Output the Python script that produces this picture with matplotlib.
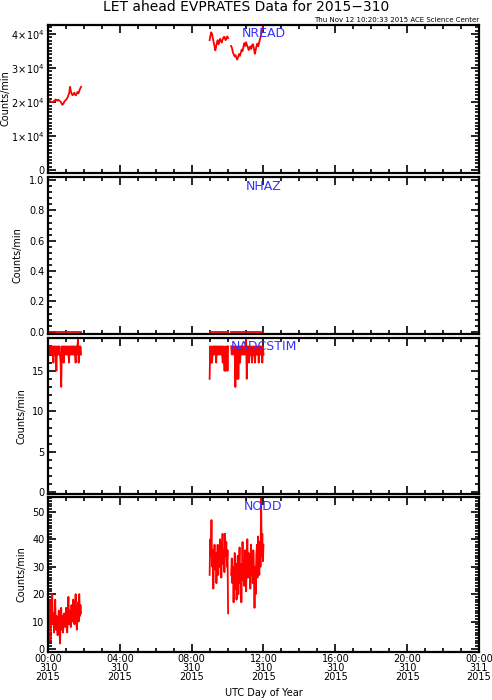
import numpy as np
import matplotlib
matplotlib.use('Agg')
import matplotlib.pyplot as plt
from matplotlib.ticker import MultipleLocator, FixedLocator

# time segments in hours (start, end) of day 310; values sampled evenly inside each segment
seg_a = (0.0, 1.84)
seg_b = (9.0, 10.03)
seg_c = (10.2, 12.0)

nread_a = [20900, 20700, 20400, 20200, 20100, 20000, 20100, 20300, 20500, 20800,
           20600, 20400, 20700, 20500, 20300, 20100, 19600, 19200, 19500, 20000,
           20400, 20600, 20900, 21300, 22000, 22600, 24500, 23200, 22400, 22000,
           22300, 22800, 22200, 22000, 22500, 23000, 22600, 23400, 24000, 24500]
nread_b = [38200, 39500, 40500, 40000, 38800, 37600, 36500, 35200, 36200, 37400,
           38200, 37000, 37800, 38600, 38000, 37500, 38300, 38900, 39200, 38700,
           38200, 38900, 39300, 38800]
nread_c = [36500, 35800, 34600, 34000, 33400, 33800, 33000, 32500, 33300, 34100,
           33600, 34500, 35400, 35000, 36200, 37300, 36500, 37600, 36800, 36200,
           35300, 35800, 36400, 35600, 36800, 37000, 35800, 34200, 35200, 36500,
           37200, 36400, 37500, 38500, 39500, 40800, 42000, 43000]

nhaz_a = [0, 0]
nhaz_b = [0, 0]
nhaz_c = [0, 0]

nadc_a = [18, 17, 18, 17, 18, 17, 18, 17, 18, 16, 18, 17, 18, 17, 15, 18, 17, 18, 17, 18,
          17, 16, 13, 18, 17, 18, 16, 18, 17, 18, 17, 18, 17, 18, 17, 16, 18, 17, 18, 17,
          18, 17, 18, 17, 18, 17, 16, 18, 17, 18, 19, 16, 18, 17, 18, 17]
nadc_b = [14, 18, 16, 18, 16, 17, 18, 17, 18, 17, 18, 16, 18, 17, 18, 17, 18, 17, 18, 17,
          18, 17, 16, 18, 17, 15, 18, 15, 17, 18, 15, 18]
nadc_c = [18, 17, 18, 17, 18, 17, 18, 13, 18, 17, 14, 18, 14, 17, 18, 16, 18, 17, 18, 17,
          18, 17, 18, 17, 18, 19, 14, 18, 17, 18, 16, 18, 17, 18, 17, 16, 18, 17, 18, 17,
          16, 18, 17, 18, 17, 18, 16, 18, 17, 18, 17, 18, 16, 18, 17]

nodd_a = [8, 15, 12, 18, 3, 11, 14, 20, 9, 13, 6, 10, 18, 7, 12, 9, 5, 11, 14, 8,
          2, 10, 15, 7, 12, 6, 9, 13, 11, 8, 15, 10, 6, 12, 19, 9, 14, 11, 8, 16,
          12, 10, 18, 13, 9, 15, 20, 11, 7, 14, 17, 10, 20, 12, 16, 13]
nodd_b = [27, 40, 34, 47, 30, 36, 22, 33, 38, 29, 35, 24, 31, 38, 27, 36, 30, 40, 33, 26,
          37, 42, 31, 35, 28, 42, 34, 39, 30, 36, 13]
nodd_c = [27, 33, 24, 30, 17, 28, 35, 22, 31, 18, 26, 34, 20, 29, 37, 24, 31, 17, 28, 39,
          25, 32, 23, 36, 29, 21, 33, 40, 26, 35, 28, 31, 22, 38, 27, 33, 24, 36, 29, 15,
          30, 20, 34, 38, 26, 41, 32, 27, 39, 30, 55, 34, 42, 32, 38]

panels = [
    ('NREAD', [nread_a, nread_b, nread_c], (-700, 42800), 10000, 1000),
    ('NHAZ', [nhaz_a, nhaz_b, nhaz_c], (-0.015, 1.022), 0.2, 0.04),
    ('NADCSTIM', [nadc_a, nadc_b, nadc_c], (-0.2, 19.1), 5, 1),
    ('NODD', [nodd_a, nodd_b, nodd_c], (-1.1, 55.4), 10, 1),
]

x_ticks = [0, 4, 8, 12, 16, 20, 24]
x_ticklabels = ['00:00\n310\n2015', '04:00\n310\n2015', '08:00\n310\n2015', '12:00\n310\n2015',
                '16:00\n310\n2015', '20:00\n310\n2015', '00:00\n311\n2015']

# axes boxes in pixels (top, bottom) and ylabel right-edge x position
boxes = [(24.5, 172.6), (176.7, 334.0), (337.5, 494.0), (497.0, 652.0)]
ylabel_px = [10, 23, 26, 26]
W, H = 492, 700
left_px, right_px = 48, 479

plt.rcParams['font.family'] = 'DejaVu Sans'
plt.rcParams['mathtext.fontset'] = 'dejavusans'
fig = plt.figure(figsize=(W / 100, H / 100), dpi=100, facecolor='white')

fig.text(0.5, 1 - 7 / H, 'LET ahead EVPRATES Data for 2015\u2212310', ha='center', va='center',
         fontsize=10)
fig.text(right_px / W, 1 - 19.5 / H, 'Thu Nov 12 10:20:33 2015 ACE Science Center', ha='right',
         va='center', fontsize=5)

segs = [seg_a, seg_b, seg_c]
for i, (name, data, ylim, major, minor) in enumerate(panels):
    top, bot = boxes[i]
    ax = fig.add_axes([left_px / W, 1 - bot / H, (right_px - left_px) / W, (bot - top) / H])
    for (t0, t1), vals in zip(segs, data):
        t = np.linspace(t0, t1, len(vals))
        ax.plot(t, vals, color='#ff0000', lw=1.3)
    ax.set_xlim(0, 24)
    ax.set_ylim(*ylim)
    ax.xaxis.set_major_locator(FixedLocator(x_ticks))
    ax.xaxis.set_minor_locator(MultipleLocator(1))
    ax.yaxis.set_major_locator(MultipleLocator(major))
    ax.yaxis.set_minor_locator(MultipleLocator(minor))
    ax.tick_params(which='both', direction='in', top=True, right=True, width=1.2,
                   labelsize=7, pad=2.5)
    ax.tick_params(which='major', length=6)
    ax.tick_params(which='minor', length=3)
    for sp in ax.spines.values():
        sp.set_linewidth(1.6)
    if i == 3:
        ax.set_xticklabels(x_ticklabels, linespacing=0.9)
        ax.tick_params(axis='x', pad=1.5)
        ax.set_xlabel('UTC Day of Year', fontsize=7, labelpad=4)
    else:
        ax.set_xticklabels([])
    if name == 'NREAD':
        ax.set_yticks([0, 10000, 20000, 30000, 40000])
        ax.set_yticklabels(['0', r'$1\!\times\!10^4$', r'$2\!\times\!10^4$', r'$3\!\times\!10^4$',
                            r'$4\!\times\!10^4$'])
    elif name == 'NHAZ':
        ax.set_yticks([0, 0.2, 0.4, 0.6, 0.8, 1.0])
        ax.set_yticklabels(['0.0', '0.2', '0.4', '0.6', '0.8', '1.0'])
    ax.set_ylabel('Counts/min', fontsize=7)
    ax.yaxis.set_label_coords((ylabel_px[i] - left_px) / (right_px - left_px), 0.5)
    ax.text(12, ylim[1] - (ylim[1] - ylim[0]) * 0.06, name, color='#3333ff', ha='center',
            va='center', fontsize=9)

fig.savefig('out.png', dpi=100, facecolor='white')
